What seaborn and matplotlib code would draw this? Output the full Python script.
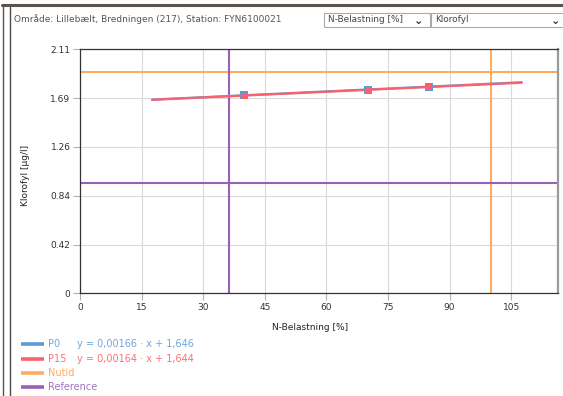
#!/usr/bin/env python3
"""Klorofyl vs N-Belastning, Lillebælt Bredningen (217)"""

import pandas as pd
import matplotlib.pyplot as plt
import matplotlib.lines as mlines
import matplotlib.patches as mpatches
import seaborn as sns

# data
point_x = [40, 70, 85]
p0_y = [1.713, 1.762, 1.787]
p15_y = [1.710, 1.759, 1.783]
line_x = [17.5, 107.6]
p0_line_y = [1.675, 1.825]
p15_line_y = [1.673, 1.821]
nutid_x = 100
nutid_y = 1.914
ref_x = 36.2
ref_y = 0.958

x_ticks = [0, 15, 30, 45, 60, 75, 90, 105]
y_ticks = [0, 0.422, 0.844, 1.266, 1.688, 2.11]
y_tick_labels = ["0", "0.42", "0.84", "1.26", "1.69", "2.11"]

series_names = ["P0", "P15", "Nutid", "Reference"]
series_eq = ["y = 0,00166 · x + 1,646", "y = 0,00164 · x + 1,644", "", ""]
line_colors = ["#5b9bd5", "#ff5f6a", "#ffac63", "#9b5fb5"]
text_colors = ["#6fa6dc", "#ff6f78", "#ffaa66", "#a273c0"]

sns.set_style("white")
plt.rcParams['font.family'] = ['DejaVu Sans']

W, H = 563, 396
fig = plt.figure(figsize=(W / 100, H / 100), dpi=100)

def fx(px):
    return px / W

def fy(py):
    return 1 - py / H

ax = fig.add_axes([fx(80.3), fy(293.3), fx(558.3) - fx(80.3), fy(49.3) - fy(293.3)])

df_pts = pd.DataFrame({"x": point_x * 2, "y": p0_y + p15_y,
                       "serie": ["P0"] * 3 + ["P15"] * 3})
df_lines = pd.DataFrame({"x": line_x * 2, "y": p0_line_y + p15_line_y,
                         "serie": ["P0"] * 2 + ["P15"] * 2})
pal = {"P0": line_colors[0], "P15": line_colors[1]}

# reference / nutid lines
ax.axhline(nutid_y, color=line_colors[2], lw=1.5, zorder=2)
ax.axvline(nutid_x, color=line_colors[2], lw=1.5, zorder=2)
ax.axhline(ref_y, color=line_colors[3], lw=1.5, zorder=2)
ax.axvline(ref_x, color=line_colors[3], lw=1.5, zorder=2)

sns.lineplot(data=df_lines, x="x", y="y", hue="serie", palette=pal,
             lw=1.6, legend=False, ax=ax, zorder=3)
sns.scatterplot(data=df_pts[df_pts.serie == "P0"], x="x", y="y", color=line_colors[0],
                marker="s", s=32, linewidth=0, legend=False, ax=ax, zorder=4)
sns.scatterplot(data=df_pts[df_pts.serie == "P15"], x="x", y="y", color=line_colors[1],
                marker="s", s=22, linewidth=0, legend=False, ax=ax, zorder=5)

ax.set_xlim(0, 116.5)
ax.set_ylim(0, 2.11)
ax.set_xticks(x_ticks)
ax.set_yticks(y_ticks)
ax.set_yticklabels(y_tick_labels)
ax.grid(True, color="#dadada", lw=0.8)
ax.set_axisbelow(True)
ax.tick_params(axis="both", which="both", length=5, width=0.8, color="#b0b0b0",
               labelsize=6.5, labelcolor="#333333", pad=2, left=True, bottom=True)
for side in ["left", "bottom", "top"]:
    ax.spines[side].set_color("#333333")
    ax.spines[side].set_linewidth(0.9)
ax.spines["right"].set_color("#9a9a9a")
ax.spines["right"].set_linewidth(1.6)

ax.set_xlabel("N-Belastning [%]", fontsize=6.5, color="#222222")
ax.set_ylabel("Klorofyl [µg/l]", fontsize=6.5, color="#222222")
ax.xaxis.set_label_coords((310 - 80.3) / 478, (293.3 - 323) / 244)
ax.yaxis.set_label_coords((30 - 80.3) / 478, (293.3 - 175) / 244)

# window frame
fig.add_artist(mlines.Line2D([fx(2), 1], [fy(4.5), fy(4.5)], color="#5a534e", lw=2.2))
fig.add_artist(mlines.Line2D([fx(2.5), fx(2.5)], [fy(4), 0], color="#5a534e", lw=1.0))
fig.add_artist(mlines.Line2D([fx(9.5), fx(9.5)], [fy(6.5), 0], color="#4a4a4a", lw=1.0))

# header text and dropdowns
fig.text(fx(14), fy(19.5), "Område: Lillebælt, Bredningen (217), Station: FYN6100021",
         fontsize=6.5, color="#555555", va="center", ha="left")
for x0, x1, chev, label in [(324, 430, 414, "N-Belastning [%]"), (431, 570, 551, "Klorofyl")]:
    fig.add_artist(mpatches.Rectangle((fx(x0), fy(27)), fx(x1) - fx(x0), fy(13) - fy(27),
                                      facecolor="white", edgecolor="#a9a9a9", lw=0.8))
    fig.text(fx(x0 + 4), fy(20), label, fontsize=6.4, color="#444444", va="center", ha="left")
    fig.text(fx(chev), fy(20.5), "⌄", fontsize=8, color="#333333",
             va="center", ha="left", fontweight="bold")

# legend
leg_y = [343.7, 359.3, 372.7, 387]
for name, eq, lc, tc, yy in zip(series_names, series_eq, line_colors, text_colors, leg_y):
    fig.add_artist(mlines.Line2D([fx(21), fx(44)], [fy(yy), fy(yy)], color=lc, lw=2.6,
                                 solid_capstyle="butt"))
    fig.text(fx(48), fy(yy), name, fontsize=7, color=tc, va="center", ha="left")
    if eq:
        fig.text(fx(77), fy(yy), eq, fontsize=7, color=tc, va="center", ha="left")

fig.savefig("out.png", dpi=100)
